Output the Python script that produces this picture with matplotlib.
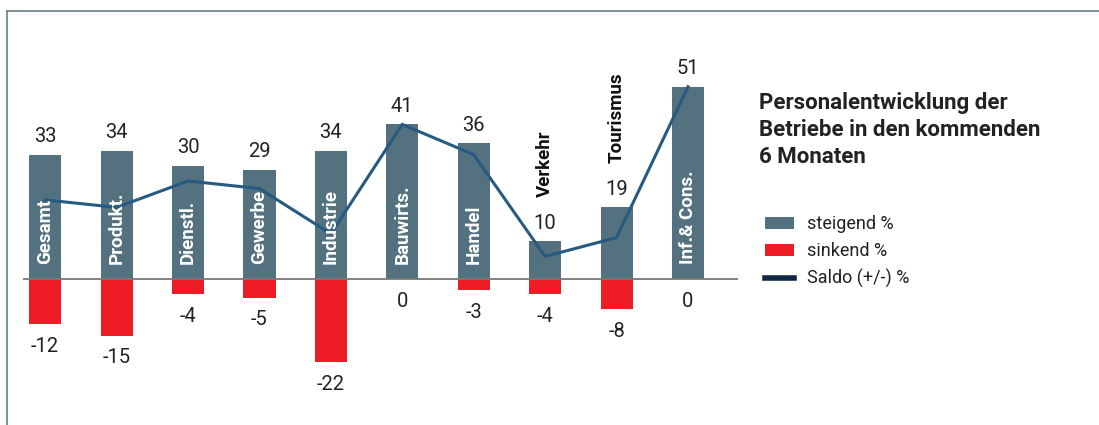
import matplotlib
matplotlib.use("Agg")
import matplotlib.pyplot as plt
from matplotlib.lines import Line2D
from matplotlib.patches import Patch

# Branchen und Anteile der Betriebe (in %)
categories = ["Gesamt", "Produkt.", "Dienstl.", "Gewerbe", "Industrie",
              "Bauwirts.", "Handel", "Verkehr", "Tourismus", "Inf.& Cons."]
steigend = [33, 34, 30, 29, 34, 41, 36, 10, 19, 51]
sinkend = [-12, -15, -4, -5, -22, 0, -3, -4, -8, 0]
saldo = [s + f for s, f in zip(steigend, sinkend)]
# Kurze Balken: Beschriftung steht darüber statt im Balken
outside_labels = ["Verkehr", "Tourismus"]

title = "Personalentwicklung der\nBetriebe in den kommenden\n6 Monaten"
legend_labels = ["steigend %", "sinkend %", "Saldo (+/-) %"]

C_UP = "#53717f"
C_DOWN = "#ee1c25"
C_LINE = "#265a80"
C_LEGEND_LINE = "#0e2745"
C_FRAME = "#6e8792"
C_TEXT = "#222222"

plt.rcParams["font.family"] = ["Roboto", "DejaVu Sans"]

W, H = 1099, 425
fig = plt.figure(figsize=(W / 100, H / 100), dpi=100)

# Rahmenlinien oben und links
fig.add_artist(Line2D([7 / W, 1.0], [1 - 11 / H, 1 - 11 / H], color=C_FRAME, lw=1.3))
fig.add_artist(Line2D([7 / W, 7 / W], [0, 1 - 11 / H], color=C_FRAME, lw=1.3))

ax = fig.add_axes([23 / W, 0, (738 - 23) / W, 1])
x = list(range(len(categories)))
ax.set_xlim(-0.31, 9.70)
ax.set_ylim(-38.7, 74.0)
ax.axis("off")

ax.bar(x, steigend, width=0.45, color=C_UP, zorder=2)
ax.bar(x, sinkend, width=0.45, color=C_DOWN, zorder=2)
ax.axhline(0, color="#777777", lw=1.3, zorder=3)
ax.plot(x, saldo, color=C_LINE, lw=2.2, zorder=4, solid_joinstyle="miter")

for i, (cat, up, down) in enumerate(zip(categories, steigend, sinkend)):
    ax.annotate(str(up), (i, up), xytext=(0, 9), textcoords="offset points",
                ha="center", va="baseline", fontsize=14.5, color=C_TEXT, zorder=5)
    ax.annotate(str(down), (i, down), xytext=(0, -9), textcoords="offset points",
                ha="center", va="top", fontsize=14.5, color=C_TEXT, zorder=5)
    if cat in outside_labels:
        ax.annotate(cat, (i, up), xytext=(0, 32), textcoords="offset points",
                    ha="center", va="bottom", rotation=90, fontsize=13.5,
                    fontweight="bold", color="#111111", zorder=5)
    else:
        ax.text(i, 4.0, cat, ha="center", va="bottom", rotation=90,
                fontsize=13.5, fontweight="bold", color="white", zorder=5)

fig.text(759 / W, 1 - 92 / H, title, ha="left", va="top", fontsize=16,
         fontweight="bold", color=C_TEXT, linespacing=1.28)

handles = [Patch(facecolor=C_UP), Patch(facecolor=C_DOWN),
           Line2D([], [], color=C_LEGEND_LINE, lw=4)]
fig.legend(handles, legend_labels, loc="upper left",
           bbox_to_anchor=(749 / W, 1 - 199 / H), frameon=False,
           fontsize=13, handlelength=1.6, handleheight=0.7,
           labelspacing=0.5, handletextpad=0.7, labelcolor=C_TEXT)

fig.savefig("out.png", dpi=100)
